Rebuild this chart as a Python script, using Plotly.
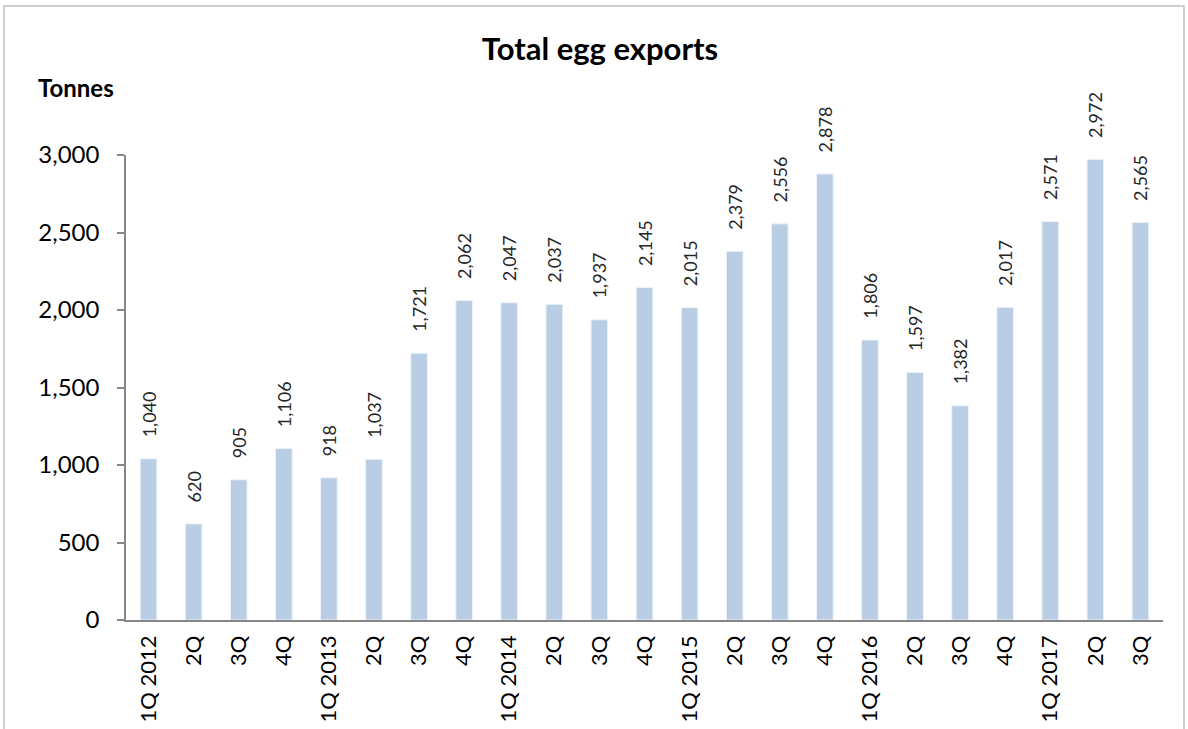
import plotly.graph_objects as go

categories = ["1Q 2012", "2Q", "3Q", "4Q", "1Q 2013", "2Q", "3Q", "4Q", "1Q 2014", "2Q", "3Q", "4Q",
              "1Q 2015", "2Q", "3Q", "4Q", "1Q 2016", "2Q", "3Q", "4Q", "1Q 2017", "2Q", "3Q"]
exports_tonnes = [1040, 620, 905, 1106, 918, 1037, 1721, 2062, 2047, 2037, 1937, 2145,
                  2015, 2379, 2556, 2878, 1806, 1597, 1382, 2017, 2571, 2972, 2565]
y_ticks = [0, 500, 1000, 1500, 2000, 2500, 3000]

x_pos = list(range(len(categories)))
FONT = "Lato"

fig = go.Figure()
fig.add_trace(go.Bar(
    x=x_pos, y=exports_tonnes,
    marker=dict(color="#B9CDE5", line=dict(color="#EEF3F9", width=1)),
    width=0.37,
    texttemplate="\u00a0\u00a0\u00a0\u00a0%{y:,}", textposition="outside", textangle=-90,
    constraintext="none",
    textfont=dict(family=FONT, size=18, color="#262626"),
    cliponaxis=False,
))

W, H = 1188, 729
L, T = 126, 155
R = W - 1163
B = H - 620
pw, ph = W - L - R, H - T - B

def px_x(p):
    return (p - L) / pw

def px_y(p):
    return (H - B - p) / ph

fig.update_layout(
    width=W, height=H,
    margin=dict(l=L, r=R, t=T, b=B, autoexpand=False),
    paper_bgcolor="white", plot_bgcolor="white",
    showlegend=False,
    font=dict(family=FONT, color="black"),
    title=dict(text="<b>Total egg exports</b>", x=600 / W, xanchor="center",
               y=1 - 49 / H, yanchor="middle", font=dict(family=FONT, size=31, color="black")),
    xaxis=dict(
        tickmode="array", tickvals=x_pos, ticktext=categories,
        range=[-0.5, len(categories) - 0.5],
        tickangle=-90, tickfont=dict(family=FONT, size=22, color="black"),
        showline=True, linecolor="#868686", linewidth=1.5,
        ticks="", showgrid=False, zeroline=False,
        ticklabelstandoff=5, automargin=False,
    ),
    yaxis=dict(
        range=[0, 3000], tickmode="array", tickvals=y_ticks,
        tickformat=",", tickfont=dict(family=FONT, size=24, color="black"),
        showline=True, linecolor="#868686", linewidth=1.5,
        ticks="outside", ticklen=7, tickcolor="#868686", tickwidth=1.5,
        ticklabelstandoff=13, automargin=False,
        showgrid=False, zeroline=False,
    ),
    annotations=[dict(
        text="<b>Tonnes</b>", xref="paper", yref="paper",
        x=px_x(36), y=px_y(87), xanchor="left", yanchor="middle",
        showarrow=False, font=dict(family=FONT, size=24, color="black"),
    )],
    shapes=[dict(
        type="rect", xref="paper", yref="paper",
        x0=px_x(4), x1=px_x(1184), y0=px_y(760), y1=px_y(6),
        line=dict(color="#BFBFBF", width=1.5), fillcolor="rgba(0,0,0,0)", layer="below",
    )],
)

fig.write_html(
    "out.html",
    config={"displayModeBar": False},
    post_script="document.body.style.margin='0';document.documentElement.style.overflow='hidden';",
)
